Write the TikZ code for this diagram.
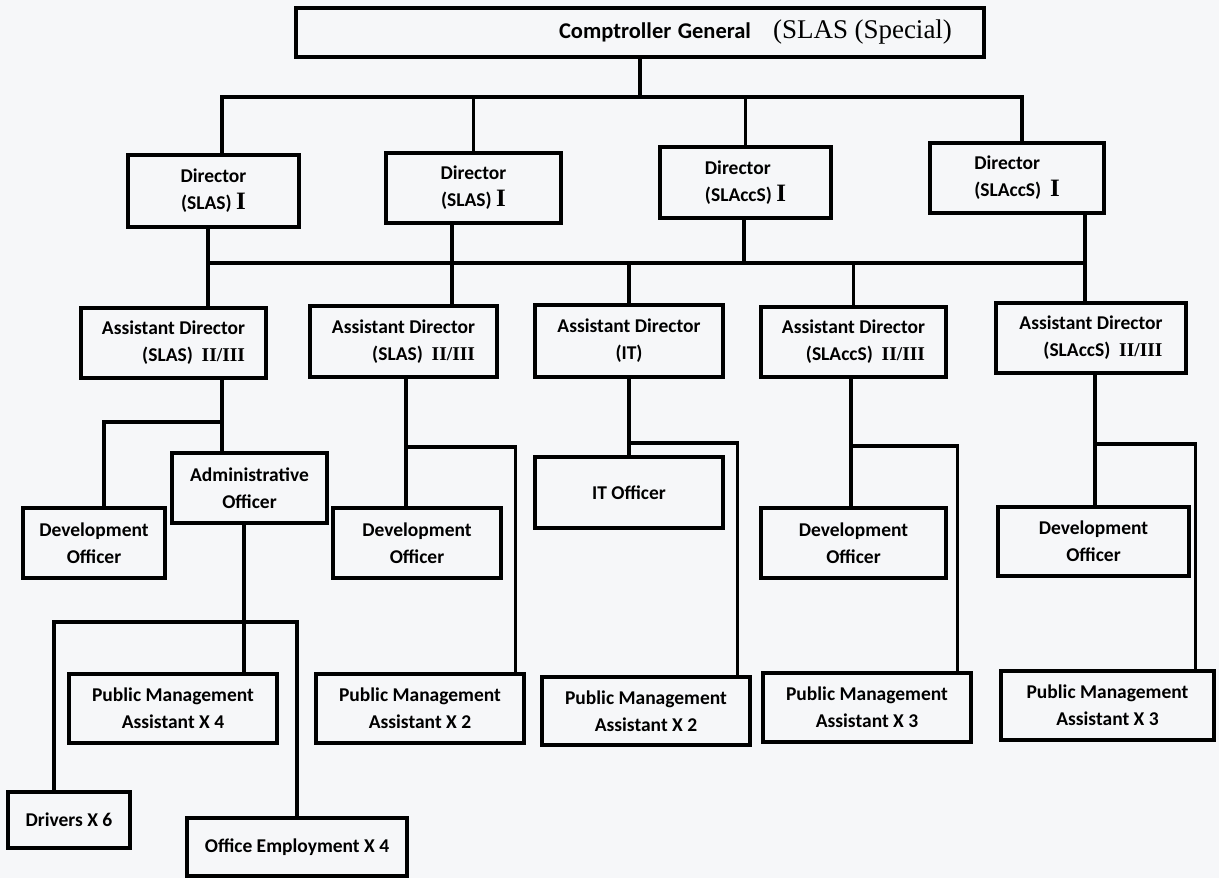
\documentclass[tikz,border=0pt]{standalone}
\usepackage{fontspec}
\setmainfont{Carlito}
\newfontfamily\romfont{Liberation Serif}
\newcommand{\rnum}[1]{{\romfont\bfseries #1}}
\newcommand{\bigrnum}[1]{{\romfont\fontsize{25}{27}\selectfont #1}}
\definecolor{paper}{RGB}{246,247,249}

\begin{document}
\begin{tikzpicture}[x = 1pt, y = -1pt, line width = 3.1pt, font = \fontsize{19.5}{27}\selectfont\bfseries,
	box/.style 2 args = {draw, rectangle, inner sep = 0pt, align = center, minimum width = #1pt, minimum height = #2pt}]
    \fill[paper] (0,0) rectangle (1219,878);
    \useasboundingbox (0,0) rectangle (1219,878);

    \node[box = {688}{49}, text width = 624pt, inner xsep = 32pt, align = right]	(cg)	at (640,32.5)
		{\fontsize{22.5}{27}\selectfont Comptroller General\hspace{22pt}{\romfont\mdseries\fontsize{27}{27}\selectfont (SLAS (Special)}};

    \node[box = {171}{72}]					(d1)	at (213.5,191)		{Director\\(SLAS) \bigrnum{I}};
    \node[box = {175}{70}]					(d2)	at (473.5,188)		{Director\\(SLAS) \bigrnum{I}};
    \node[box = {171}{71}, align = left]	(d3)	at (745.5,182.5)	{Director\\(SLAccS) \bigrnum{I}};
    \node[box = {174}{70}, align = left]	(d4)	at (1017,178)		{Director\\(SLAccS)\ \ \bigrnum{I}};

    \node[box = {185}{70}, align = right]	(ad1)	at (173.5,343)		{Assistant Director\\(SLAS)\ \ \rnum{II/III}};
    \node[box = {187}{71}, align = right]	(ad2)	at (403.5,341.5)	{Assistant Director\\(SLAS)\ \ \rnum{II/III}};
    \node[box = {188}{72}]					(ad3)	at (629,341)		{Assistant Director\\(IT)};
    \node[box = {185}{70}, align = right]	(ad4)	at (853.5,342)		{Assistant Director\\(SLAccS)\ \ \rnum{II/III}};
    \node[box = {190}{70}, align = right]	(ad5)	at (1091,338)		{Assistant Director\\(SLAccS)\ \ \rnum{II/III}};

    \node[box = {142}{70}]					(dev1)	at (94,543)			{Development\\Officer};
    \node[box = {155}{70}]					(admin)	at (249.5,488)		{Administrative\\Officer};
    \node[box = {168}{70}]					(dev2)	at (417,543)		{Development\\Officer};
    \node[box = {188}{71}]					(it)	at (629,492.5)		{IT Officer};
    \node[box = {185}{70}]					(dev4)	at (853.5,543)		{Development\\Officer};
    \node[box = {191}{69}]					(dev5)	at (1093.5,541.5)	{Development\\Officer};

    \node[box = {208}{69}]					(pma4)	at (173,708.5)		{Public Management\\Assistant X 4};
    \node[box = {208}{69}]					(pma2)	at (420,708.5)		{Public Management\\Assistant X 2};
    \node[box = {208}{68}]					(pmait)	at (646,711)		{Public Management\\Assistant X 2};
    \node[box = {208}{69}]					(pma3a)	at (867,707.5)		{Public Management\\Assistant X 3};
    \node[box = {213}{69}]					(pma3b)	at (1107.5,705.5)	{Public Management\\Assistant X 3};
    \node[box = {122}{56}]					(drv)	at (69,820)			{Drivers X 6};
    \node[box = {220}{58}]					(oe)	at (297,847)		{Office Employment X 4};

    \coordinate (k1) at (222,97);
    \coordinate (k4) at (1022,97);
    \draw	(cg.south) -- (cg.south |- k1);
    \draw	(k1 |- d1.north) -- (k1) -- (k4) -- (k4 |- d4.north);
    \draw	(d2.north) -- (d2.north |- k1);
    \draw	(d3.north) -- (d3.north |- k1);

    \coordinate (m1) at (208,263);
    \coordinate (m2) at (452,263);
    \coordinate (m3) at (744,263);
    \coordinate (m5) at (1085,263);
    \draw	(m1 |- d1.south) -- (m1 |- ad1.north);
    \draw	(m2 |- d2.south) -- (m2 |- ad2.north);
    \draw	(m3 |- d3.south) -- (m3);
    \draw	(m5 |- d4.south) -- (m5 |- ad5.north);
    \draw	(m1) -- (m5);
    \draw	(ad3.north) -- (ad3.north |- m1);
    \draw	(ad4.north) -- (ad4.north |- m1);

    \coordinate (j1) at (222,422);
    \coordinate (j2) at (406,447);
    \coordinate (j3) at (629,443);
    \coordinate (j4) at (851,446);
    \coordinate (j5) at (1095,444);
    \coordinate (j6) at (244,622);
    \draw	(j1 |- ad1.south) -- (j1 |- admin.north);
    \draw	(j1) -| ([xshift=10pt]dev1.north);
    \draw	(j2 |- ad2.south) -- (j2 |- dev2.north);
    \draw	(j2) -| ([xshift=-10pt]pma2.north east);
    \draw	(ad3.south) -- (it.north);
    \draw	(j3) -| ([xshift=-14pt]pmait.north east);
    \draw	(j4 |- ad4.south) -- (j4 |- dev4.north);
    \draw	(j4) -| ([xshift=-15pt]pma3a.north east);
    \draw	(j5 |- ad5.south) -- (j5 |- dev5.north);
    \draw	(j5) -| ([xshift=-20pt]pma3b.north east);
    \draw	(j6 |- admin.south) -- (j6 |- pma4.north);
    \draw	([xshift=-15pt]drv.north) |- (oe.north |- j6) -- (oe.north);
\end{tikzpicture}
\end{document}
